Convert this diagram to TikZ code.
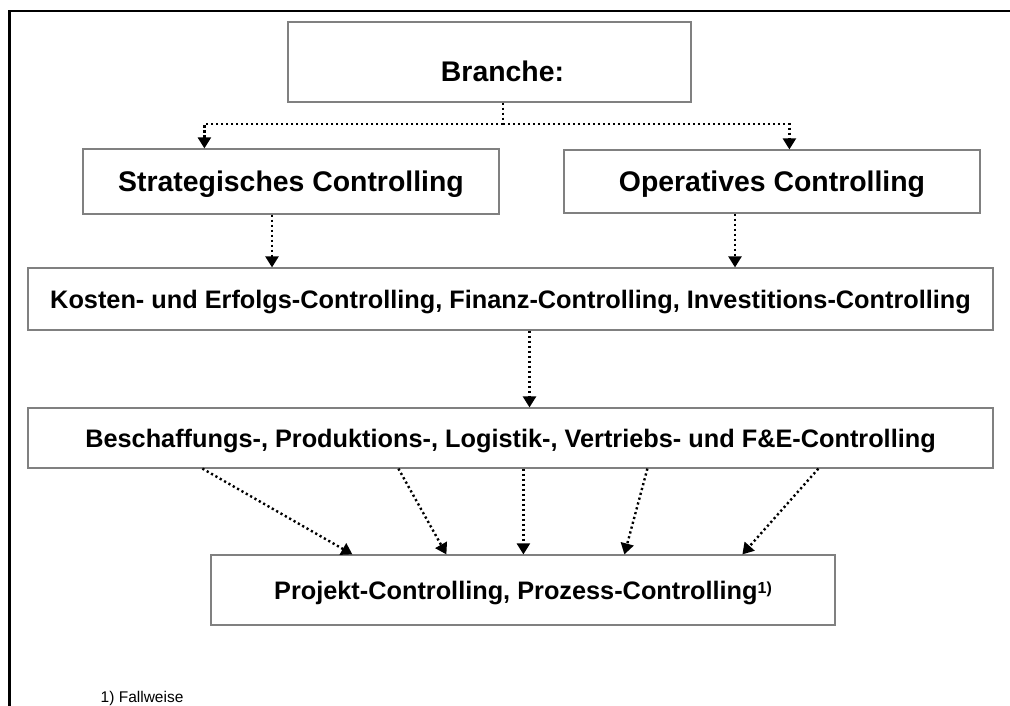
\documentclass[tikz,border=0pt]{standalone}
\usepackage{fontspec}
\setmainfont{Liberation Sans}
\usepackage{tikz}
\usetikzlibrary{calc, positioning, arrows.meta}

\begin{document}
\begin{tikzpicture}[x=1pt,y=-1pt,thick,
                    box/.style={draw=black!50,line width=1.2pt,inner sep=0pt,text depth=0pt},
                    big/.style={font=\bfseries\fontsize{28.4}{30}\selectfont,text height=20pt,text depth=0pt},
                    mid/.style={font=\bfseries\fontsize{25.3}{27}\selectfont,text height=18pt},
                    flow/.style={line width=2.4pt,dash pattern=on 2.2pt off 2.8pt,
                                 -{Triangle[width=13pt,length=11pt]}}]

  \useasboundingbox (0,0) rectangle (1010,706);
  \draw[line width=2.5pt] (9.5,706) -- (9.5,11) -- (1010,11);

  \node[box,minimum width=403pt,minimum height=80pt,
        label={[big,xshift=13pt,yshift=-10pt]center:Branche:}] (branche) at (489.5,62) {};
  \node[box,big,minimum width=416pt,minimum height=65pt] (strat) at (291,181.5) {Strategisches Controlling};
  \node[box,big,minimum width=416pt,minimum height=63pt] (oper) at (772,181.5) {Operatives Controlling};
  \node[box,mid,minimum width=965pt,minimum height=62pt] (kosten) at (510.5,299)
    {Kosten- und Erfolgs-Controlling, Finanz-Controlling, Investitions-Controlling};
  \node[box,mid,minimum width=965pt,minimum height=60pt] (besch) at (510.5,438)
    {Beschaffungs-, Produktions-, Logistik-, Vertriebs- und F\&E-Controlling};
  \node[box,mid,minimum width=624pt,minimum height=70pt] (projekt) at (523,590)
    {Projekt-Controlling, Prozess-Controlling\raisebox{6pt}{\fontsize{16}{16}\selectfont 1)}};

  \node[anchor=base west,font=\fontsize{15.5}{17}\selectfont] (note) at (97,702) {1) Fallweise};

  \coordinate (split) at (503,124);
  \draw[flow,-] (branche.south -| split) -- (split);
  \draw[flow] (split) -| ([xshift=122pt]strat.north west);
  \draw[flow] (split) -| ([xshift=226pt]oper.north west);

  \draw[flow] ([xshift=-19pt]strat.south) -- ([xshift=-19pt]strat.south |- kosten.north);
  \draw[flow] ([xshift=-37pt]oper.south) -- ([xshift=-37pt]oper.south |- kosten.north);
  \draw[flow] ([xshift=19pt]kosten.south) -- ([xshift=19pt]kosten.south |- besch.north);

  \foreach \s/\e in {175/142, 371/236, 496/313, 620/414, 791/532}
    \draw[flow] ([xshift=\s pt]besch.south west) -- ([xshift=\e pt]projekt.north west);

\end{tikzpicture}
\end{document}
